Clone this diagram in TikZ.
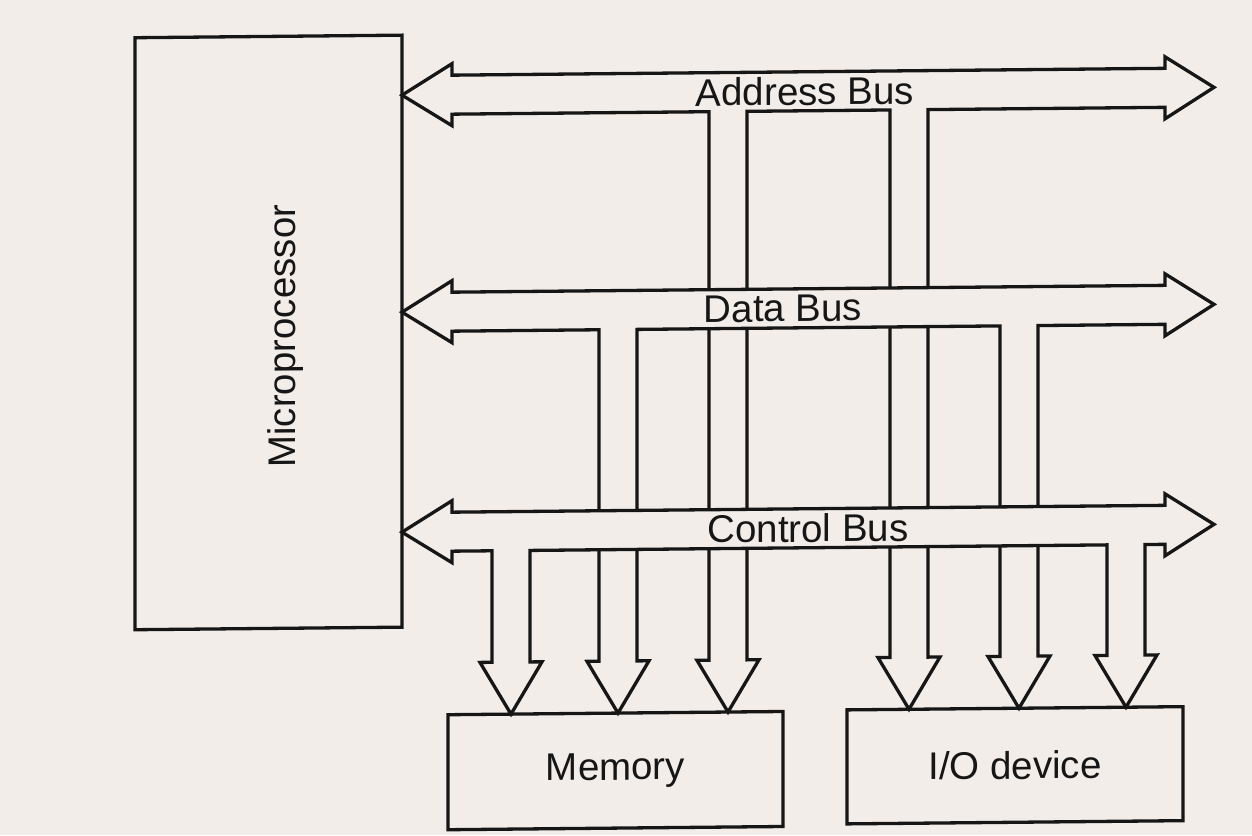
\documentclass[tikz,border=0pt]{standalone}
\usepackage{fontspec}
\setmainfont{Liberation Sans}
\definecolor{paper}{RGB}{243,237,233}
\definecolor{ink}{RGB}{22,22,22}
% bus: #1 = centre line y, #2 = branches x/tip-y (right to left)
\newcommand\drawbus[2]{%
  \draw[busline] (402,#1) -- (452,#1-31) -- (452,#1-19.5) -- (1165,#1-19.5)
    -- (1165,#1-31) -- (1214,#1) -- (1165,#1+31) -- (1165,#1+19.5)
    \foreach \bX/\bT in {#2} {
      -- (\bX+19,#1+19.5) -- (\bX+19,\bT-52) -- (\bX+31,\bT-52) -- (\bX,\bT)
      -- (\bX-31,\bT-52) -- (\bX-19,\bT-52) -- (\bX-19,#1+19.5) }
    -- (452,#1+19.5) -- (452,#1+31) -- cycle;}
\begin{document}
\begin{tikzpicture}[x=1pt,y=-1pt,
  busline/.style={draw=ink, fill=paper, line width=3.3pt, line join=miter},
  box/.style={draw=ink, line width=3.3pt, inner sep=0pt},
  lbl/.style={text=ink, font=\fontsize{38.5}{44}\selectfont, inner sep=0pt}]
\fill[paper] (0,0) rectangle (1252,835);
\useasboundingbox (0,0) rectangle (1252,835);
\begin{scope}[shift={(626,0)}, yslant=0.0096, shift={(-626,0)}, transform shape]
  \drawbus{93}{909/712, 728/713}
  \drawbus{310}{1019/712, 618/713}
  \drawbus{530}{1126/712, 511/713}
  \node[box, minimum width=267pt, minimum height=592pt] (cpu) at (268.5,329) {};
  \node[lbl, rotate=90] (cputxt) at (286,333) {Microprocessor};
  \node[box, lbl, minimum width=335pt, minimum height=115pt] (mem) at (615.5,770.5) {Memory};
  \node[box, lbl, minimum width=336pt, minimum height=114pt] (io) at (1015,769) {I/O device};
  \node[lbl] (ab) at (805,93) {Address Bus};
  \node[lbl] (db) at (783,310) {Data Bus};
  \node[lbl] (cb) at (808,530) {Control Bus};
\end{scope}
\end{tikzpicture}
\end{document}
